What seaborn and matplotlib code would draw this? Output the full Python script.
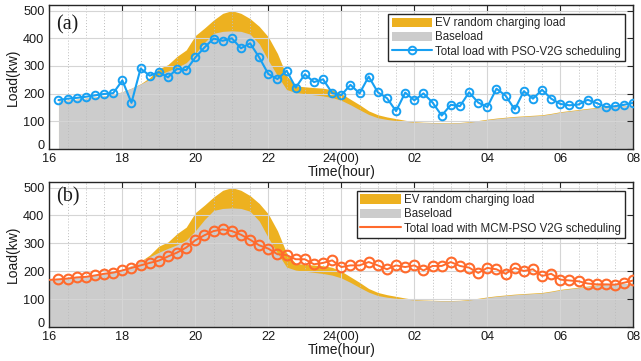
import numpy as np
import pandas as pd
import matplotlib
matplotlib.use("Agg")
import matplotlib.pyplot as plt
from matplotlib.patches import Patch
from matplotlib.lines import Line2D
from matplotlib.ticker import MultipleLocator
from matplotlib.transforms import ScaledTranslation
import seaborn as sns

# ---------------- data (15-min resolution) ----------------
# baseload and baseload+EV random charging, 16:00 .. 08:00 (65 samples)
baseload = [170, 173, 177, 180, 184, 188, 192, 198, 207, 220, 235, 252, 268, 282, 295, 312,
            345, 385, 418, 425, 427, 425, 415, 380, 320, 265, 215, 204, 200, 196, 192, 186,
            176, 160, 142, 125, 113, 107, 103, 100, 97, 96, 95, 94, 94, 95, 97, 101,
            106, 110, 113, 116, 118, 120, 122, 127, 133, 137, 141, 145, 149, 152, 154, 156, 157]
base_plus_ev = [170, 173, 177, 180, 184, 188, 192, 198, 207, 220, 236, 258, 290, 305, 335, 358,
                410, 437, 466, 490, 500, 490, 471, 443, 405, 345, 265, 228, 225, 222, 220, 214,
                200, 180, 160, 138, 124, 116, 110, 104, 99, 97, 96, 95, 95, 96, 99, 103,
                108, 112, 115, 118, 120, 122, 124, 129, 135, 139, 143, 147, 151, 153, 155, 156, 157]

# PSO-V2G total load, 16:15 .. 08:00 (64 samples)
pso_total = [177, 182, 185, 189, 194, 199, 202, 248, 167, 291, 265, 278, 259, 290, 285, 331,
             367, 399, 391, 400, 364, 382, 331, 271, 253, 283, 222, 270, 242, 252, 202, 195,
             232, 201, 262, 205, 184, 137, 204, 176, 201, 168, 121, 160, 155, 205, 168, 152,
             218, 193, 143, 209, 182, 214, 182, 163, 158, 161, 178, 166, 152, 155, 160, 167]

# MCM-PSO V2G total load, 16:00 .. 08:00 (65 samples; first one without marker)
mcm_total = [169, 171, 174, 178, 180, 185, 191, 195, 203, 212, 221, 230, 238, 253, 267, 285,
             311, 329, 344, 350, 344, 331, 313, 293, 281, 261, 258, 243, 243, 225, 230, 239,
             215, 221, 221, 233, 221, 207, 221, 215, 221, 203, 219, 219, 233, 219, 213, 194,
             212, 207, 191, 212, 201, 207, 183, 191, 170, 167, 164, 156, 153, 153, 152, 159, 167]

xtick_pos = [16, 18, 20, 22, 24, 26, 28, 30, 32]
xtick_labels = ["16", "18", "20", "22", "24(00)", "02", "04", "06", "08"]
ytick_pos = [0, 100, 200, 300, 400, 500]

hours = 16 + 0.25 * np.arange(len(baseload))
df_base = pd.DataFrame({"t": hours, "base": baseload, "total": base_plus_ev})
df_pso = pd.DataFrame({"t": hours[1:], "load": pso_total})
df_mcm = pd.DataFrame({"t": hours, "load": mcm_total})

# ---------------- style ----------------
sns.set_style("white")
plt.rcParams["font.family"] = ["Liberation Sans", "DejaVu Sans"]
plt.rcParams["font.size"] = 9.2

ORANGE = "#EDB120"
GREY = "#CCCCCC"
BLUE = "#17A0F2"
RED = "#FF6A2C"
AXC = "#262626"

fig = plt.figure(figsize=(6.41, 3.61), dpi=100)
ax_a = fig.add_axes([0.077, 0.587, 0.911, 0.399])
ax_b = fig.add_axes([0.077, 0.094, 0.911, 0.402])


def style_axes(ax, label, label_y):
    ax.set_xlim(16, 32)
    ax.set_ylim(0, 520)
    ax.set_xticks(xtick_pos)
    ax.set_xticklabels(xtick_labels)
    ax.set_yticks(ytick_pos)
    ax.xaxis.set_minor_locator(MultipleLocator(0.5))
    ax.set_axisbelow("line")
    ax.grid(which="major", axis="both", color="#D5D5D5", linewidth=0.8, linestyle="-")
    ax.grid(which="minor", axis="x", color="#BDBDBD", linewidth=0.7, linestyle=(0, (1, 2)))
    ax.tick_params(which="major", direction="in", top=True, right=True, length=4,
                   width=0.8, color=AXC, labelsize=9.2, labelcolor="#1a1a1a")
    ax.tick_params(axis="x", which="major", pad=3)
    ax.tick_params(axis="y", which="major", pad=3.5)
    ax.tick_params(which="minor", length=0)
    for s in ax.spines.values():
        s.set_color(AXC)
        s.set_linewidth(1.0)
    # lift the "0" label slightly, as in the reference, so it clears the x labels
    zero_lbl = ax.yaxis.get_major_ticks()[0].label1
    zero_lbl.set_transform(zero_lbl.get_transform() +
                           ScaledTranslation(0, 3 / 72, fig.dpi_scale_trans))
    ax.set_xlabel("Time(hour)", fontsize=10, labelpad=0, color="#1a1a1a")
    ax.set_ylabel("Load(kw)", fontsize=10, labelpad=2, color="#1a1a1a")
    ax.text(0.011, label_y, label, transform=ax.transAxes, ha="left", va="center",
            family=["Liberation Serif", "DejaVu Serif"], fontsize=14.5, color="#1a1a1a")


LEG_KW = dict(loc="upper right", fontsize=8.3, frameon=True, fancybox=False,
              edgecolor=AXC, framealpha=1, handlelength=3.5, handleheight=0.85,
              handletextpad=0.3, labelspacing=0.2, borderpad=0.3, borderaxespad=0.75)

# ---------- panel (a) ----------
sub = df_base.iloc[1:]
ax_a.fill_between(sub["t"], 0, sub["total"], color=ORANGE, linewidth=0, zorder=1)
ax_a.fill_between(sub["t"], 0, sub["base"], color=GREY, linewidth=0, zorder=1.1)
sns.lineplot(data=df_pso, x="t", y="load", ax=ax_a, color=BLUE, linewidth=1.5,
             marker="o", markersize=5.5, markerfacecolor="none", markeredgecolor=BLUE,
             markeredgewidth=1.4, zorder=3)
style_axes(ax_a, "(a)", 0.865)
h_a = [Patch(facecolor=ORANGE, edgecolor="none"),
       Patch(facecolor=GREY, edgecolor="none"),
       Line2D([], [], color=BLUE, linewidth=1.5, marker="o", markersize=5.5,
              markerfacecolor="none", markeredgewidth=1.4)]
leg = ax_a.legend(h_a, ["EV random charging load", "Baseload",
                        "Total load with PSO-V2G scheduling"], **LEG_KW)
leg.get_frame().set_linewidth(1.0)

# ---------- panel (b) ----------
ax_b.fill_between(df_base["t"], 0, df_base["total"], color=ORANGE, linewidth=0, zorder=1)
ax_b.fill_between(df_base["t"], 0, df_base["base"], color=GREY, linewidth=0, zorder=1.1)
sns.lineplot(data=df_mcm, x="t", y="load", ax=ax_b, color=RED, linewidth=1.4,
             marker="o", markersize=7, markerfacecolor="none", markeredgecolor=RED,
             markeredgewidth=1.5, markevery=list(range(1, len(mcm_total))), zorder=3)
style_axes(ax_b, "(b)", 0.895)
h_b = [Patch(facecolor=ORANGE, edgecolor="none"),
       Patch(facecolor=GREY, edgecolor="none"),
       Line2D([], [], color=RED, linewidth=1.5)]
leg = ax_b.legend(h_b, ["EV random charging load", "Baseload",
                        "Total load with MCM-PSO V2G scheduling"], **LEG_KW)
leg.get_frame().set_linewidth(1.0)

fig.savefig("out.png", dpi=100)
